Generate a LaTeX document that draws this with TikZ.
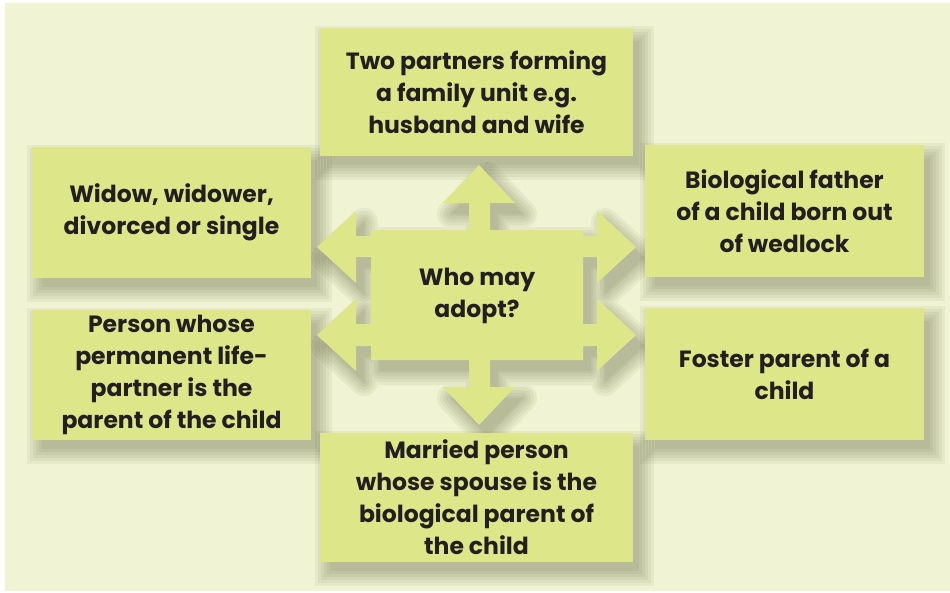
\documentclass[tikz,border=0pt]{standalone}
\usepackage{fontspec}
\setmainfont{Poppins}
\usetikzlibrary{backgrounds}
\definecolor{bgcream}{RGB}{240,244,212}
\definecolor{boxgreen}{RGB}{221,230,137}
\definecolor{txtdark}{RGB}{35,31,32}
\definecolor{shadowcol}{RGB}{70,75,40}
\tikzset{
  boxfont/.style={font=\fontsize{23.5}{32}\selectfont\bfseries},
  infobox/.style={rectangle, fill=boxgreen, draw=none, align=center, inner sep=0pt,
    text=txtdark, boxfont},
  hub/.style={fill=boxgreen, draw=none},
  shadowlayer/.style={fill=shadowcol, opacity=0.062},
}
\def\hubpath{(479,165) -- (515,203) -- (490,203) -- (490,230) -- (583,230) -- (583,236) -- (597,236) -- (597,211) -- (636,247) -- (597,283) -- (597,257) -- (583,257)
  -- (583,324) -- (597,324) -- (597,299) -- (636,335) -- (597,371) -- (597,346) -- (583,346) -- (583,360)
  -- (490,360) -- (490,387) -- (515,387) -- (479,425) -- (443,387) -- (469,387) -- (469,360)
  -- (371,360) -- (371,346) -- (356,346) -- (356,371) -- (317,335) -- (356,299) -- (356,324) -- (371,324)
  -- (371,257) -- (356,257) -- (356,283) -- (317,247) -- (356,211) -- (356,236) -- (371,236) -- (371,230)
  -- (469,230) -- (469,203) -- (443,203) -- cycle}
\begin{document}
\begin{tikzpicture}[x=1pt,y=-1pt]
\useasboundingbox (0,0) rectangle (950,592);
% outer boxes
\node[infobox, minimum width=313, minimum height=128] (top) at (476.5,92) {Two partners forming\\a family unit e.g.\\husband and wife};
\node[infobox, minimum width=279, minimum height=131] (ul) at (171.5,212.5) {Widow, widower,\\divorced or single};
\node[infobox, minimum width=279, minimum height=132] (ur) at (784.5,211) {Biological father\\of a child born out\\of wedlock};
\node[infobox, minimum width=279, minimum height=130] (ll) at (171.5,375) {Person whose\\permanent life-\\partner is the\\parent of the child};
\node[infobox, minimum width=279, minimum height=132] (lr) at (784.5,374) {Foster parent of a\\child};
\node[infobox, minimum width=313, minimum height=129] (bot) at (476.5,497.5) {Married person\\whose spouse is the\\biological parent of\\the child};
% central hub with four-way arrows
\path[hub] \hubpath;
\node[align=center, text=txtdark, boxfont, inner sep=0pt] (center) at (477,296) {Who may\\adopt?};
% background and soft shadows
\begin{pgfonlayer}{background}
\fill[white] (0,0) rectangle (950,592);
\fill[bgcream] (5,3) rectangle (950,591);
\foreach \n in {top,ul,ur,ll,lr,bot}{
  \foreach \e in {-2,1,4,7,10,13}{
    \fill[shadowlayer] ([shift={(8-\e,11-\e)}]\n.north west) rectangle ([shift={(8+\e,11+\e)}]\n.south east);
  }
}
\begin{scope}[shift={(8,11)}]
  \fill[shadowlayer] \hubpath;
  \foreach \w in {4,10,16,22,28}{
    \begin{scope}[transparency group, opacity=0.062]
      \filldraw[fill=shadowcol, draw=shadowcol, line width=\w pt, line join=round] \hubpath;
    \end{scope}
  }
\end{scope}
\end{pgfonlayer}
\end{tikzpicture}
\end{document}
